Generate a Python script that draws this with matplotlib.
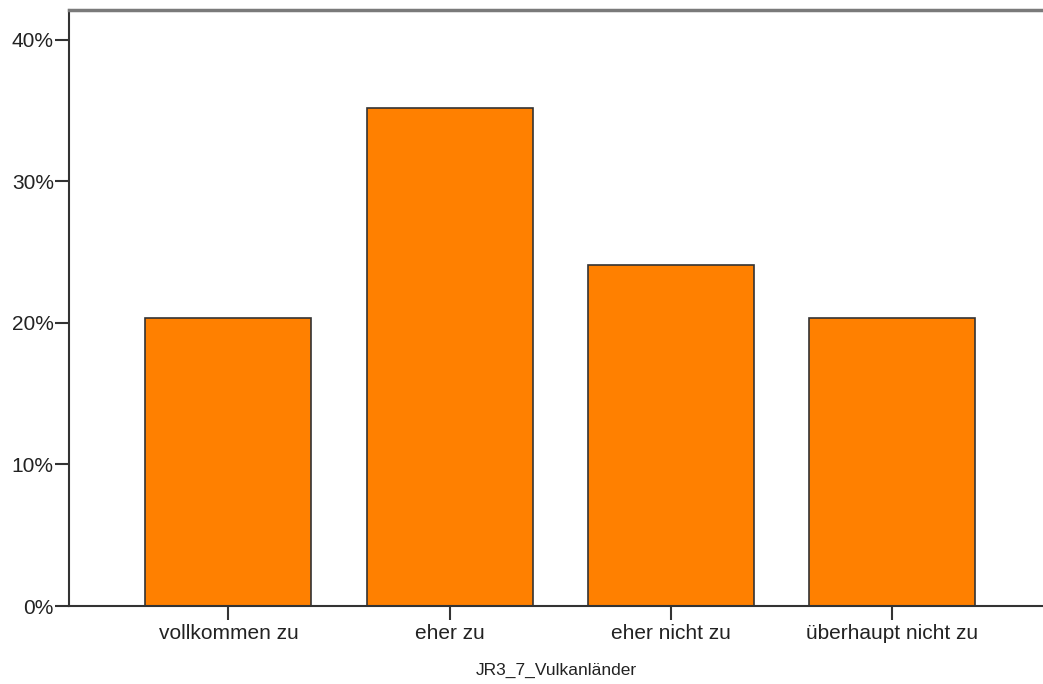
import matplotlib.pyplot as plt
from matplotlib.ticker import PercentFormatter

categories = ["vollkommen zu", "eher zu", "eher nicht zu", "überhaupt nicht zu"]
percent = [20.37, 35.19, 24.07, 20.37]
y_ticks = [0, 10, 20, 30, 40]
x_label = "JR3_7_Vulkanländer"

plt.rcParams["font.family"] = ["Liberation Sans", "DejaVu Sans"]

fig = plt.figure(figsize=(10.43, 6.84), dpi=100)
ax = fig.add_axes([0.0662, 0.114, 0.9338, 0.8713])

x = range(len(categories))
ax.bar(x, percent, width=0.75, color="#FF8000", edgecolor="#333333", linewidth=1.2)

ax.set_xlim(-0.72, 3.68)
ax.set_ylim(0, 42.1)
ax.set_xticks(list(x))
ax.set_xticklabels(categories, fontsize=15, color="#222222")
ax.set_yticks(y_ticks)
ax.yaxis.set_major_formatter(PercentFormatter(decimals=0))
ax.tick_params(axis="y", labelsize=15, labelcolor="#222222", length=10,
               width=1.5, color="#333333", pad=1)
ax.tick_params(axis="x", length=10, width=1.5, color="#333333", pad=3)
ax.set_xlabel(x_label, fontsize=12.5, color="#222222", labelpad=14)

ax.spines["right"].set_visible(False)
ax.spines["left"].set_color("#333333")
ax.spines["left"].set_linewidth(1.5)
ax.spines["bottom"].set_color("#333333")
ax.spines["bottom"].set_linewidth(1.5)
ax.spines["top"].set_color("#7a7a7a")
ax.spines["top"].set_linewidth(2.5)

fig.savefig("out.png", dpi=100)
